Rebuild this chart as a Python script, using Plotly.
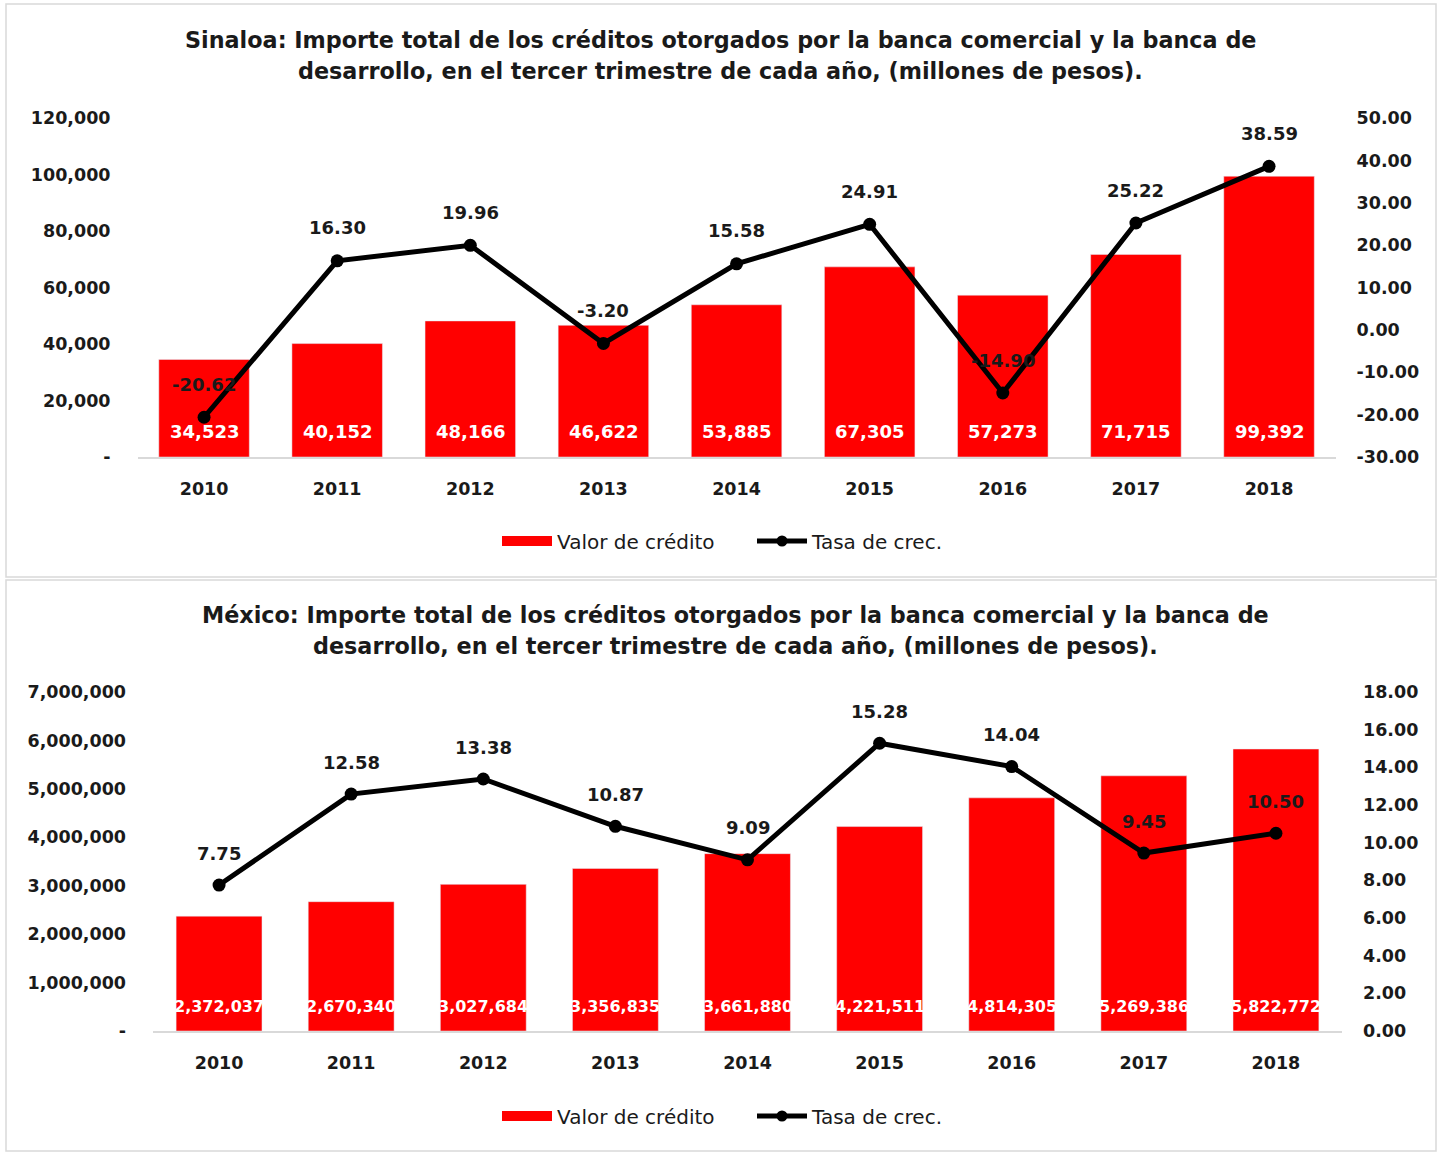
import plotly.graph_objects as go

years = ["2010", "2011", "2012", "2013", "2014", "2015", "2016", "2017", "2018"]
sin_credito = [34523, 40152, 48166, 46622, 53885, 67305, 57273, 71715, 99392]
sin_tasa = [-20.62, 16.30, 19.96, -3.20, 15.58, 24.91, -14.90, 25.22, 38.59]
mex_credito = [2372037, 2670340, 3027684, 3356835, 3661880, 4221511, 4814305, 5269386, 5822772]
mex_tasa = [7.75, 12.58, 13.38, 10.87, 9.09, 15.28, 14.04, 9.45, 10.50]

sin_left_ticks = [0, 20000, 40000, 60000, 80000, 100000, 120000]
sin_right_ticks = [-30, -20, -10, 0, 10, 20, 30, 40, 50]
mex_left_ticks = [0, 1000000, 2000000, 3000000, 4000000, 5000000, 6000000, 7000000]
mex_right_ticks = [0, 2, 4, 6, 8, 10, 12, 14, 16, 18]

title_sin = ["Sinaloa: Importe total de los créditos otorgados por la banca comercial y la banca de",
             "desarrollo, en el tercer trimestre de cada año, (millones de pesos)."]
title_mex = ["México: Importe total de los créditos otorgados por la banca comercial y la banca de",
             "desarrollo, en el tercer trimestre de cada año, (millones de pesos)."]

W, H = 1442, 1152
RED = "#FF0000"
FONT = "DejaVu Sans, sans-serif"
TXT = "#1a1a1a"


def acct(v):
    return "-" if v == 0 else f"{v:,.0f}"


idx = list(range(len(years)))

fig = go.Figure()

# --- Sinaloa
fig.add_trace(go.Bar(x=years, y=sin_credito, marker_color=RED, width=0.68,
                     xaxis="x", yaxis="y", showlegend=False, name="Valor de crédito"))
fig.add_trace(go.Scatter(x=years, y=sin_tasa, mode="lines+markers", xaxis="x", yaxis="y2",
                         line=dict(color="black", width=5), marker=dict(size=13, color="black"),
                         name="Tasa de crec.", showlegend=False))
# --- México
fig.add_trace(go.Bar(x=years, y=mex_credito, marker_color=RED, width=0.65,
                     xaxis="x2", yaxis="y3", showlegend=False, name="Valor de crédito"))
fig.add_trace(go.Scatter(x=years, y=mex_tasa, mode="lines+markers", xaxis="x2", yaxis="y4",
                         line=dict(color="black", width=5), marker=dict(size=13, color="black"),
                         name="Tasa de crec.", showlegend=False))

# legend entries
for lg, xa, ya in [("legend", "x", "y"), ("legend2", "x2", "y3")]:
    fig.add_trace(go.Scatter(x=[years[0]], y=[None], mode="lines", line=dict(color=RED, width=17),
                             name="Valor de crédito", legend=lg, xaxis=xa, yaxis=ya))
    fig.add_trace(go.Scatter(x=[years[0]], y=[None], mode="lines+markers",
                             line=dict(color="black", width=5), marker=dict(size=11, color="black"),
                             name="Tasa de crec.", legend=lg, xaxis=xa, yaxis=ya))

lab = dict(family=FONT, size=18, color=TXT, weight="bold")
ann = []
for i, v in zip(idx, sin_credito):
    ann.append(dict(x=i, y=0, xref="x", yref="y", text=f"{v:,.0f}", showarrow=False,
                    yshift=26, font=dict(family=FONT, size=18, color="white", weight="bold")))
for i, v in zip(idx, sin_tasa):
    ann.append(dict(x=i, y=v, xref="x", yref="y2", text=f"{v:.2f}", showarrow=False,
                    yshift=33, font=lab))
for i, v in zip(idx, mex_credito):
    ann.append(dict(x=i, y=0, xref="x2", yref="y3", text=f"{v:,.0f}", showarrow=False,
                    yshift=25, font=dict(family=FONT, size=16, color="white", weight="bold")))
for i, v in zip(idx, mex_tasa):
    ann.append(dict(x=i, y=v, xref="x2", yref="y4", text=f"{v:.2f}", showarrow=False,
                    yshift=32, font=lab))

tfont = dict(family=FONT, size=22.3, color=TXT, weight="bold")
for line, py in zip(title_sin, [40, 71]):
    ann.append(dict(x=720.5 / W, y=1 - py / H, xref="paper", yref="paper", text=line,
                    showarrow=False, xanchor="center", yanchor="middle", font=tfont))
for line, py in zip(title_mex, [615, 646]):
    ann.append(dict(x=735.5 / W, y=1 - py / H, xref="paper", yref="paper", text=line,
                    showarrow=False, xanchor="center", yanchor="middle", font=tfont))

tick = dict(family=FONT, size=17.5, color=TXT, weight="bold")
common_y = dict(showgrid=False, zeroline=False, tickfont=tick, automargin=False, showline=False)
legfont = dict(family=FONT, size=20, color=TXT)

fig.update_layout(
    width=W, height=H, margin=dict(l=0, r=0, t=0, b=0, autoexpand=False),
    paper_bgcolor="white", plot_bgcolor="white",
    annotations=ann,
    shapes=[
        dict(type="rect", xref="paper", yref="paper", x0=6 / W, x1=1436 / W, y0=1 - 577 / H, y1=1 - 4 / H,
             line=dict(color="#D9D9D9", width=1.5), layer="below"),
        dict(type="rect", xref="paper", yref="paper", x0=6 / W, x1=1436 / W, y0=1 - 1151 / H, y1=1 - 580 / H,
             line=dict(color="#D9D9D9", width=1.5), layer="below"),
    ],
    xaxis=dict(domain=[137.5 / W, 1335.6 / W], anchor="y", type="category", range=[-0.5, 8.5],
               showline=True, linecolor="#D9D9D9", linewidth=1.5, showgrid=False, automargin=False,
               tickfont=tick, ticklabelstandoff=15, ticks=""),
    yaxis=dict(domain=[1 - 457 / H, 1 - 118 / H], anchor="x", range=[0, 120000],
               tickvals=sin_left_ticks, ticktext=[acct(v) for v in sin_left_ticks],
               ticklabelstandoff=26, **common_y),
    yaxis2=dict(overlaying="y", side="right", anchor="x", range=[-30, 50],
                tickvals=sin_right_ticks, ticktext=[f"{v:.2f}" for v in sin_right_ticks],
                ticklabelstandoff=20, **common_y),
    xaxis2=dict(domain=[153 / W, 1342 / W], anchor="y3", type="category", range=[-0.5, 8.5],
                showline=True, linecolor="#D9D9D9", linewidth=1.5, showgrid=False, automargin=False,
                tickfont=tick, ticklabelstandoff=15, ticks=""),
    yaxis3=dict(domain=[1 - 1031 / H, 1 - 692 / H], anchor="x2", range=[0, 7000000],
                tickvals=mex_left_ticks, ticktext=[acct(v) for v in mex_left_ticks],
                ticklabelstandoff=26, **common_y),
    yaxis4=dict(overlaying="y3", side="right", anchor="x2", range=[0, 18],
                tickvals=mex_right_ticks, ticktext=[f"{v:.2f}" for v in mex_right_ticks],
                ticklabelstandoff=20, **common_y),
    legend=dict(orientation="h", x=497 / W, xanchor="left", y=1 - 541 / H, yanchor="middle",
                font=legfont, itemwidth=50, entrywidth=190, bgcolor="rgba(0,0,0,0)"),
    legend2=dict(orientation="h", x=497 / W, xanchor="left", y=1 - 1116 / H, yanchor="middle",
                 font=legfont, itemwidth=50, entrywidth=190, bgcolor="rgba(0,0,0,0)"),
)

fig.write_html("out.html", config={"displayModeBar": False},
               post_script="document.body.style.margin='0px';")
